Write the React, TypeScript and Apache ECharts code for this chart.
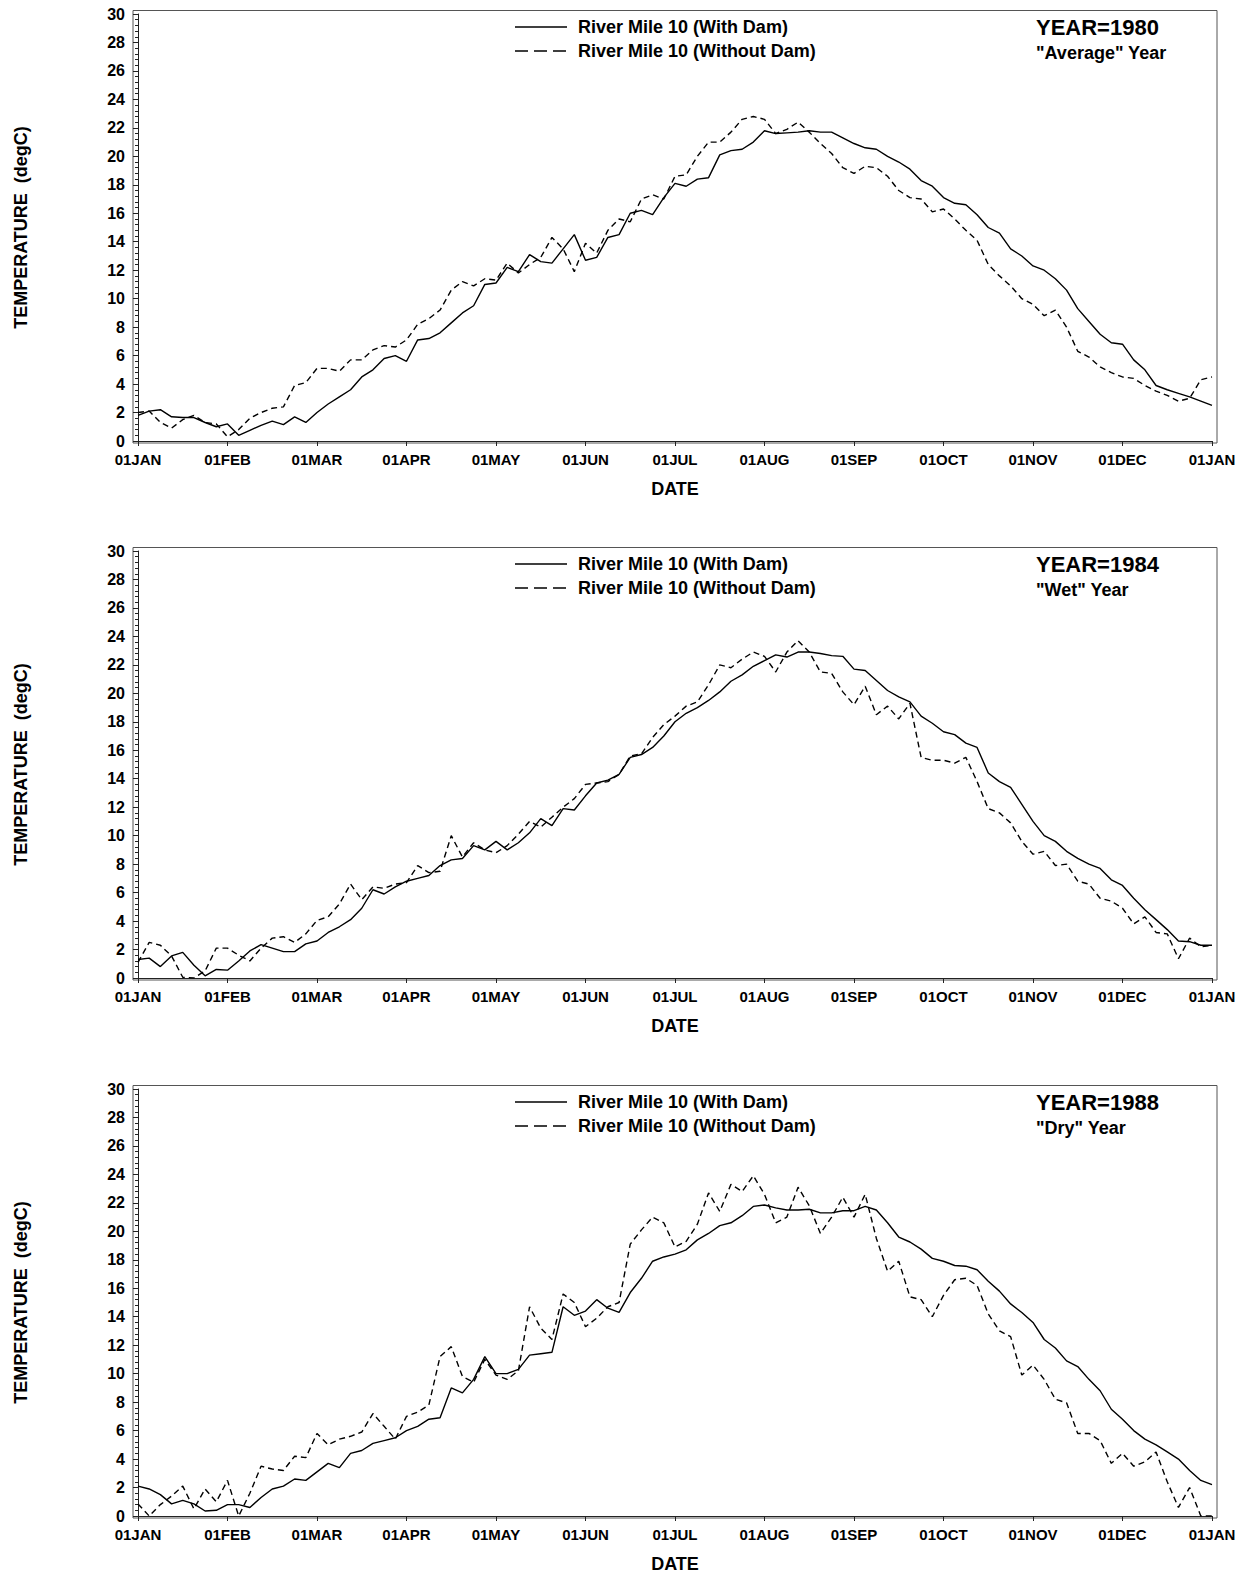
import React, { useEffect, useRef } from "react";
import * as echarts from "echarts";

const MONTH_LABELS = ["01JAN", "01FEB", "01MAR", "01APR", "01MAY", "01JUN", "01JUL", "01AUG", "01SEP", "01OCT", "01NOV", "01DEC", "01JAN"];
const SAMPLES_PER_MONTH = 8;
const Y_TICKS_MAX = 30;
const Y_TICK_STEP = 2;
const LEGEND_WITH = "River Mile 10 (With Dam)";
const LEGEND_WITHOUT = "River Mile 10 (Without Dam)";
const YEARS = ["1980", "1984", "1988"];
const YEAR_NOTES = ['"Average" Year', '"Wet" Year', '"Dry" Year'];

// values sampled every 1/8 month, from 01JAN to 01JAN of the next year
const withDam1980 = [
  1.8, 2.1, 2.2, 1.7, 1.65, 1.65, 1.3, 1.0, 1.2, 0.4, 0.75, 1.1, 1.4, 1.15, 1.7, 1.3,
  2.0, 2.6, 3.1, 3.6, 4.5, 5.0, 5.8, 6.0, 5.6, 7.1, 7.2, 7.6, 8.3, 9.0, 9.5, 11.0,
  11.1, 12.2, 11.9, 13.1, 12.6, 12.5, 13.5, 14.5, 12.7, 12.9, 14.3, 14.5, 16.0, 16.2, 15.9, 17.1,
  18.1, 17.9, 18.4, 18.5, 20.1, 20.4, 20.5, 21.0, 21.8, 21.6, 21.65, 21.7, 21.8, 21.7, 21.7, 21.3,
  20.9, 20.6, 20.5, 20.0, 19.6, 19.1, 18.3, 17.9, 17.1, 16.7, 16.6, 15.9, 15.0, 14.6, 13.5, 13.0,
  12.3, 12.0, 11.4, 10.6, 9.3, 8.4, 7.5, 6.9, 6.8, 5.7, 5.0, 3.9, 3.6, 3.35, 3.1, 2.8, 2.5,
];
const withoutDam1980 = [
  2.0, 2.1, 1.3, 0.9, 1.5, 1.8, 1.3, 1.2, 0.3, 0.8, 1.6, 2.0, 2.3, 2.4, 3.9, 4.1,
  5.1, 5.1, 4.9, 5.7, 5.7, 6.4, 6.7, 6.6, 7.1, 8.2, 8.6, 9.2, 10.6, 11.2, 10.9, 11.4,
  11.3, 12.5, 11.8, 12.4, 12.9, 14.3, 13.5, 11.9, 13.9, 13.2, 14.8, 15.6, 15.4, 17.0, 17.3, 17.0,
  18.6, 18.7, 20.0, 21.0, 21.0, 21.7, 22.6, 22.8, 22.6, 21.6, 21.9, 22.4, 21.7, 20.9, 20.2, 19.2,
  18.8, 19.3, 19.2, 18.6, 17.6, 17.1, 17.0, 16.1, 16.3, 15.6, 14.8, 14.1, 12.4, 11.6, 10.9, 10.0,
  9.6, 8.8, 9.2, 8.0, 6.3, 5.9, 5.2, 4.8, 4.5, 4.4, 3.9, 3.5, 3.2, 2.8, 3.0, 4.3, 4.5,
];
const withDam1984 = [
  1.3, 1.4, 0.8, 1.55, 1.8, 0.9, 0.15, 0.6, 0.55, 1.2, 1.9, 2.35, 2.1, 1.85, 1.85, 2.4,
  2.6, 3.2, 3.6, 4.1, 4.9, 6.2, 5.9, 6.4, 6.8, 7.0, 7.2, 7.9, 8.3, 8.4, 9.3, 9.0,
  9.6, 9.0, 9.5, 10.2, 11.2, 10.7, 11.9, 11.8, 12.8, 13.7, 13.9, 14.3, 15.5, 15.7, 16.2, 17.0,
  18.0, 18.6, 19.0, 19.5, 20.1, 20.85, 21.3, 21.9, 22.3, 22.7, 22.55, 22.9, 22.9, 22.8, 22.65, 22.6,
  21.7, 21.6, 20.9, 20.2, 19.75, 19.4, 18.4, 17.9, 17.3, 17.1, 16.5, 16.2, 14.4, 13.8, 13.4, 12.2,
  11.0, 10.0, 9.6, 8.9, 8.4, 8.0, 7.7, 6.9, 6.5, 5.6, 4.8, 4.1, 3.4, 2.6, 2.55, 2.3, 2.3,
];
const withoutDam1984 = [
  1.1, 2.5, 2.3, 1.55, 0.05, 0.0, 0.5, 2.1, 2.1, 1.6, 1.2, 2.1, 2.8, 2.9, 2.5, 3.1,
  4.05, 4.3, 5.2, 6.6, 5.5, 6.4, 6.3, 6.6, 6.7, 7.9, 7.4, 7.5, 10.0, 8.5, 9.5, 9.0,
  8.8, 9.3, 10.1, 11.0, 10.6, 11.3, 12.0, 12.6, 13.6, 13.7, 13.8, 14.3, 15.6, 15.75, 16.9, 17.8,
  18.4, 19.1, 19.4, 20.6, 22.0, 21.8, 22.4, 22.9, 22.6, 21.5, 22.9, 23.7, 22.9, 21.5, 21.4, 20.1,
  19.2, 20.5, 18.5, 19.1, 18.2, 19.3, 15.5, 15.3, 15.3, 15.1, 15.5, 13.8, 11.9, 11.6, 10.9, 9.6,
  8.7, 8.9, 7.9, 8.0, 6.8, 6.6, 5.6, 5.4, 4.9, 3.8, 4.3, 3.2, 3.1, 1.35, 2.8, 2.2, 2.3,
];
const withDam1988 = [
  2.1, 1.9, 1.5, 0.85, 1.1, 0.85, 0.35, 0.4, 0.8, 0.8, 0.6, 1.3, 1.9, 2.1, 2.6, 2.5,
  3.1, 3.7, 3.4, 4.4, 4.6, 5.1, 5.3, 5.5, 6.0, 6.3, 6.8, 6.9, 9.0, 8.65, 9.6, 11.2,
  10.0, 10.0, 10.3, 11.3, 11.4, 11.5, 14.7, 14.1, 14.4, 15.2, 14.6, 14.3, 15.7, 16.7, 17.9, 18.2,
  18.4, 18.7, 19.4, 19.85, 20.4, 20.6, 21.1, 21.75, 21.85, 21.65, 21.5, 21.5, 21.55, 21.3, 21.3, 21.45,
  21.45, 21.75, 21.5, 20.6, 19.6, 19.25, 18.75, 18.1, 17.9, 17.6, 17.55, 17.3, 16.5, 15.8, 14.9, 14.3,
  13.6, 12.4, 11.8, 10.9, 10.5, 9.6, 8.8, 7.5, 6.8, 6.0, 5.4, 5.0, 4.5, 4.0, 3.2, 2.5, 2.2,
];
const withoutDam1988 = [
  0.85, 0.0, 0.8, 1.4, 2.1, 0.5, 1.9, 1.0, 2.5, 0.0, 1.6, 3.5, 3.3, 3.2, 4.2, 4.1,
  5.8, 5.0, 5.4, 5.6, 5.9, 7.2, 6.3, 5.4, 7.0, 7.3, 7.8, 11.2, 11.9, 9.8, 9.4, 11.0,
  9.9, 9.6, 10.2, 14.7, 13.2, 12.4, 15.6, 15.0, 13.3, 13.9, 14.7, 15.0, 19.1, 20.1, 21.0, 20.6,
  18.9, 19.3, 20.5, 22.7, 21.4, 23.3, 22.8, 23.9, 22.6, 20.6, 21.0, 23.1, 21.8, 19.85, 21.0, 22.4,
  21.0, 22.6, 19.5, 17.2, 17.9, 15.4, 15.2, 14.0, 15.5, 16.6, 16.7, 16.2, 14.2, 13.0, 12.6, 9.9,
  10.6, 9.6, 8.2, 7.95, 5.8, 5.8, 5.3, 3.7, 4.4, 3.5, 3.8, 4.5, 2.4, 0.6, 2.0, 0.0, 0.0,
];

const WITH_DAM = [withDam1980, withDam1984, withDam1988];
const WITHOUT_DAM = [withoutDam1980, withoutDam1984, withoutDam1988];

const FONT = "'Liberation Sans', Arial, Helvetica, sans-serif";
const PANEL_OFFSETS = [0, 537, 1075];

function toPoints(values: number[]) {
  return values.map((v, k) => [k / SAMPLES_PER_MONTH, v]);
}

export default function App() {
  const ref = useRef<HTMLDivElement>(null);

  useEffect(() => {
    if (!ref.current) return;
    const chart = echarts.init(ref.current, undefined, { renderer: "svg" });

    const grids = PANEL_OFFSETS.map((off) => ({
      left: 138,
      width: 1074,
      top: 14 + off,
      height: 427,
    }));

    const xAxes = PANEL_OFFSETS.map((_, i) => ({
      type: "value",
      gridIndex: i,
      min: 0,
      max: 12,
      interval: 1,
      offset: 2,
      axisLine: { show: true, lineStyle: { color: "#222", width: 1 } },
      axisTick: { show: true, length: 5, lineStyle: { color: "#222", width: 1 } },
      axisLabel: {
        showMinLabel: true,
        showMaxLabel: true,
        formatter: (v: number) => MONTH_LABELS[Math.round(v)] ?? "",
        fontSize: 15,
        fontWeight: "bold",
        fontFamily: FONT,
        color: "#000",
        margin: 9,
      },
      splitLine: { show: false },
      name: "DATE",
      nameLocation: "middle",
      nameGap: 37,
      nameTextStyle: { fontSize: 18, fontWeight: "bold", fontFamily: FONT, color: "#000" },
    }));

    const yAxes = PANEL_OFFSETS.map((_, i) => ({
      type: "value",
      gridIndex: i,
      min: 0,
      max: Y_TICKS_MAX,
      interval: Y_TICK_STEP,
      offset: 5,
      axisLine: { show: true, lineStyle: { color: "#222", width: 1 } },
      axisTick: { show: true, length: 5, lineStyle: { color: "#222", width: 1 } },
      minorTick: { show: true, splitNumber: 5, length: 3, lineStyle: { color: "#222", width: 1 } },
      axisLabel: {
        fontSize: 16,
        fontWeight: "bold",
        fontFamily: FONT,
        color: "#000",
        margin: 8,
      },
      splitLine: { show: false },
      minorSplitLine: { show: false },
      name: "TEMPERATURE  (degC)",
      nameLocation: "middle",
      nameGap: 103,
      nameTextStyle: { fontSize: 18, fontWeight: "bold", fontFamily: FONT, color: "#000" },
    }));

    const series: any[] = [];
    PANEL_OFFSETS.forEach((_, i) => {
      series.push({
        type: "line",
        name: LEGEND_WITH,
        xAxisIndex: i,
        yAxisIndex: i,
        data: toPoints(WITH_DAM[i]),
        showSymbol: false,
        symbol: "none",
        lineStyle: { color: "#000", width: 1.4, type: "solid" },
      });
      series.push({
        type: "line",
        name: LEGEND_WITHOUT,
        xAxisIndex: i,
        yAxisIndex: i,
        data: toPoints(WITHOUT_DAM[i]),
        showSymbol: false,
        symbol: "none",
        lineStyle: { color: "#000", width: 1.4, type: [6, 4] },
      });
    });

    const graphics: any[] = [];
    PANEL_OFFSETS.forEach((off, i) => {
      graphics.push({
        type: "rect",
        silent: true,
        shape: { x: 133, y: 10.5 + off, width: 1084, height: 432.5 },
        style: { fill: "none", stroke: "#555", lineWidth: 1 },
      });
      graphics.push({
        type: "line",
        shape: { x1: 515, y1: 27 + off, x2: 567, y2: 27 + off },
        style: { stroke: "#000", lineWidth: 1.3 },
      });
      graphics.push({
        type: "line",
        shape: { x1: 515, y1: 51 + off, x2: 567, y2: 51 + off },
        style: { stroke: "#000", lineWidth: 1.3, lineDash: [13, 6] },
      });
      graphics.push({
        type: "text",
        style: {
          text: LEGEND_WITH, x: 578, y: 27 + off, verticalAlign: "middle",
          fontSize: 18, fontWeight: "bold", fontFamily: FONT, fill: "#000",
        },
      });
      graphics.push({
        type: "text",
        style: {
          text: LEGEND_WITHOUT, x: 578, y: 51 + off, verticalAlign: "middle",
          fontSize: 18, fontWeight: "bold", fontFamily: FONT, fill: "#000",
        },
      });
      graphics.push({
        type: "text",
        style: {
          text: "YEAR=" + YEARS[i], x: 1036, y: 27 + off, verticalAlign: "middle",
          fontSize: 22, fontWeight: "bold", fontFamily: FONT, fill: "#000",
        },
      });
      graphics.push({
        type: "text",
        style: {
          text: YEAR_NOTES[i], x: 1036, y: 53 + off, verticalAlign: "middle",
          fontSize: 18, fontWeight: "bold", fontFamily: FONT, fill: "#000",
        },
      });
    });

    chart.setOption({
      animation: false,
      backgroundColor: "#fff",
      grid: grids,
      xAxis: xAxes,
      yAxis: yAxes,
      series,
      graphic: graphics,
    });

    return () => chart.dispose();
  }, []);

  return (
    <div
      ref={ref}
      style={{ position: "fixed", left: 0, top: 0, width: 1247, height: 1575, background: "#fff" }}
    />
  );
}
